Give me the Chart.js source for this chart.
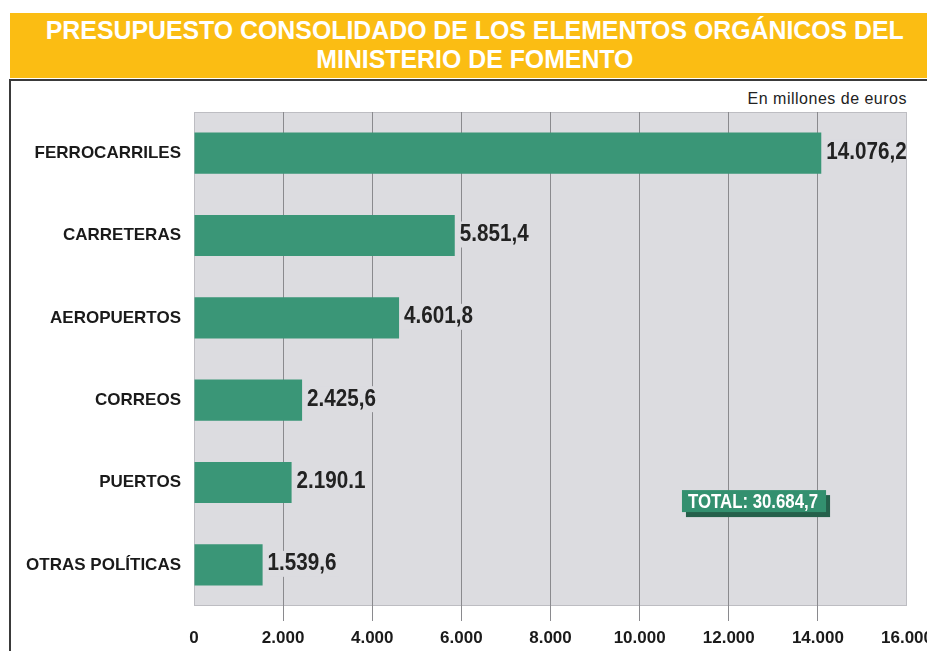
<!DOCTYPE html>
<html>
<head>
<meta charset="utf-8">
<script src="https://cdn.jsdelivr.net/npm/chart.js@4.4.1/dist/chart.umd.min.js"></script>
<style>
    html, body { margin: 0; padding: 0; background: #fff; overflow: hidden; }
    #wrap { position: relative; width: 927px; height: 651px; overflow: hidden; }
    #cabecera {
        position: absolute; left: 10px; top: 13px; width: 930px; height: 65px;
        background: #fbbd13; color: #fff; text-align: center;
        font-family: 'Liberation Sans', Arial, sans-serif;
        font-weight: bold; font-size: 26px; line-height: 29px;
        padding-top: 3px; box-sizing: border-box; white-space: nowrap;
    }
    #cabecera span { display: inline-block; transform-origin: 50% 50%; }
    #marco {
        position: absolute; left: 9px; top: 79px; width: 930px; height: 600px;
        border-top: 2px solid #3a3a3a; border-left: 2px solid #3a3a3a;
    }
    #unidad {
        position: absolute; right: 20px; top: 90px; letter-spacing: 0.5px;
        font-family: 'Liberation Sans', Arial, sans-serif; font-size: 16px; color: #222;
    }
    #grafico { position: absolute; left: 0; top: 0; }
</style>
</head>
<body>
<div id="wrap">
    <div id="cabecera"><span id="lin1">PRESUPUESTO CONSOLIDADO DE LOS ELEMENTOS ORGÁNICOS DEL</span><br><span id="lin2">MINISTERIO DE FOMENTO</span></div>
    <div id="marco"></div>
    <div id="unidad">En millones de euros</div>
    <canvas id="grafico" width="927" height="651"></canvas>
</div>
<script>
// datos (millones de euros)
const categorias = ['FERROCARRILES', 'CARRETERAS', 'AEROPUERTOS', 'CORREOS', 'PUERTOS', 'OTRAS POLÍTICAS'];
const valores = [14076.2, 5851.4, 4601.8, 2425.6, 2190.1, 1539.6];
const etiquetasValor = ['14.076,2', '5.851,4', '4.601,8', '2.425,6', '2.190.1', '1.539,6'];
const etiquetasEje = ['0', '2.000', '4.000', '6.000', '8.000', '10.000', '12.000', '14.000', '16.000'];
const textoTotal = 'TOTAL: 30.684,7';

const COR_BARRA = '#3a9677';
const COR_FUNDO = '#dcdce0';

// titulo condensado: a fonte instalada é larga, então encolhe na horizontal
const l1 = document.getElementById('lin1');
const escalaTitulo = 858 / l1.getBoundingClientRect().width;
l1.style.transform = `scaleX(${escalaTitulo})`;
document.getElementById('lin2').style.transform = `scaleX(${escalaTitulo})`;

function textoEstreito(ctx, txt, x, y, sx) {
    ctx.save();
    ctx.translate(x, y);
    ctx.scale(sx, 1);
    ctx.fillText(txt, 0, 0);
    ctx.restore();
}

const fundoPlot = {
    id: 'fundoPlot',
    beforeDraw(chart) {
        const { ctx, chartArea: a } = chart;
        ctx.save();
        ctx.fillStyle = COR_FUNDO;
        ctx.fillRect(a.left, a.top, a.right - a.left, a.bottom - a.top);
        ctx.strokeStyle = '#bdbdc2';
        ctx.lineWidth = 1;
        ctx.strokeRect(a.left + 0.5, a.top + 0.5, a.right - a.left - 1, a.bottom - a.top - 1);
        ctx.restore();
    }
};

const rotulosValor = {
    id: 'rotulosValor',
    afterDatasetsDraw(chart) {
        const { ctx, chartArea: a } = chart;
        const meta = chart.getDatasetMeta(0);
        const sx = 0.86;
        ctx.save();
        ctx.font = 'bold 24px "Liberation Sans", Arial, sans-serif';
        ctx.textBaseline = 'middle';
        ctx.textAlign = 'left';
        meta.data.forEach((bar, i) => {
            const txt = etiquetasValor[i];
            const x = bar.x + 5;
            const w = ctx.measureText(txt).width * sx;
            ctx.fillStyle = COR_FUNDO;
            const fim = Math.min(x + w + 3, a.right - 1);
            ctx.fillRect(x - 3, bar.y - 14, fim - (x - 3), 26);
            ctx.fillStyle = '#222';
            textoEstreito(ctx, txt, x, bar.y - 1, sx);
        });

        // caixa do total
        const xs = chart.scales.x, ys = chart.scales.y;
        const esq = xs.getPixelForValue(10950);
        const cy = (ys.getPixelForValue(4) * 3 + ys.getPixelForValue(5)) / 4 - 2;
        ctx.font = 'bold 20px "Liberation Sans", Arial, sans-serif';
        const w = ctx.measureText(textoTotal).width * 0.84 + 14;
        ctx.fillStyle = '#25604b';
        ctx.fillRect(esq + 4, cy - 11 + 5, w, 22);
        ctx.fillStyle = '#33906f';
        ctx.fillRect(esq, cy - 11, w, 22);
        ctx.fillStyle = '#fff';
        textoEstreito(ctx, textoTotal, esq + 6, cy + 1, 0.84);
        ctx.restore();
    }
};

new Chart(document.getElementById('grafico').getContext('2d'), {
    type: 'bar',
    data: {
        labels: categorias,
        datasets: [{
            data: valores,
            backgroundColor: COR_BARRA,
            borderWidth: 0,
            barPercentage: 0.5,
            categoryPercentage: 1.0
        }]
    },
    options: {
        indexAxis: 'y',
        responsive: false,
        animation: false,
        layout: { padding: { top: 112, right: 20, left: 0, bottom: 0 } },
        plugins: { legend: { display: false }, tooltip: { enabled: false } },
        scales: {
            x: {
                min: 0,
                max: 16000,
                afterFit: s => { s.height = 45; s.paddingLeft = 0; s.paddingRight = 0; },
                border: { display: false },
                grid: {
                    color: c => (c.index === 0 || c.index === etiquetasEje.length - 1) ? 'rgba(0,0,0,0)' : '#8a8a8e',
                    lineWidth: 1,
                    tickLength: 15
                },
                ticks: {
                    stepSize: 2000,
                    maxRotation: 0,
                    padding: 7,
                    color: '#1a1a1a',
                    font: { family: '"Liberation Sans", Arial, sans-serif', size: 17, weight: 'bold' },
                    callback: (v, i) => etiquetasEje[i]
                }
            },
            y: {
                afterFit: s => { s.width = 194; s.paddingTop = 0; s.paddingBottom = 0; },
                border: { display: false },
                grid: { display: false, drawTicks: false },
                ticks: {
                    padding: 13,
                    color: '#1a1a1a',
                    font: { family: '"Liberation Sans", Arial, sans-serif', size: 17, weight: 'bold' }
                }
            }
        }
    },
    plugins: [fundoPlot, rotulosValor]
});
</script>
</body>
</html>
